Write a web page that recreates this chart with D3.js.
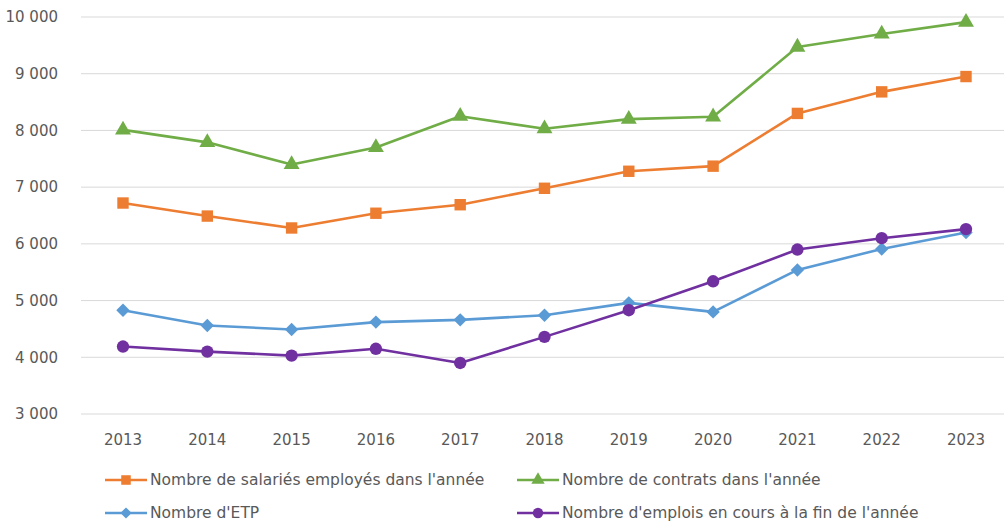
<!DOCTYPE html>
<html>
<head>
<meta charset="utf-8">
<script src="https://cdn.jsdelivr.net/npm/d3@7"></script>
<style>
  html, body { margin: 0; padding: 0; background: #fff; }
  svg text { font-family: "DejaVu Sans", "Noto Sans", sans-serif; fill: #595959; }
</style>
</head>
<body>
<svg id="chart" width="1004" height="522"></svg>
<script>
const years = [2013, 2014, 2015, 2016, 2017, 2018, 2019, 2020, 2021, 2022, 2023];
const salaries = [6720, 6490, 6280, 6540, 6690, 6980, 7280, 7370, 8300, 8680, 8950];
const contrats = [8010, 7790, 7400, 7700, 8250, 8030, 8200, 8240, 9470, 9700, 9910];
const etp = [4830, 4560, 4490, 4620, 4660, 4740, 4960, 4800, 5540, 5910, 6200];
const emplois = [4190, 4100, 4030, 4150, 3900, 4360, 4830, 5340, 5900, 6100, 6260];
const yTicks = [3000, 4000, 5000, 6000, 7000, 8000, 9000, 10000];

// diamond drawn as a square turned 45 degrees
const squareDiamond = {
  draw(context, size) {
    const r = Math.sqrt(size / 2);
    context.moveTo(0, -r);
    context.lineTo(r, 0);
    context.lineTo(0, r);
    context.lineTo(-r, 0);
    context.closePath();
  }
};

const series = [
  { name: "Nombre de salariés employés dans l'année", values: salaries, color: "#ED7D31", symbol: d3.symbolSquare, size: 130 },
  { name: "Nombre de contrats dans l'année", values: contrats, color: "#70AD47", symbol: d3.symbolTriangle, size: 110 },
  { name: "Nombre d'ETP", values: etp, color: "#5B9BD5", symbol: squareDiamond, size: 90 },
  { name: "Nombre d'emplois en cours à la fin de l'année", values: emplois, color: "#7030A0", symbol: d3.symbolCircle, size: 120 }
];

const svg = d3.select("#chart");
const plotLeft = 81, plotRight = 1004, plotTop = 17, plotBottom = 414;

const x = d3.scalePoint().domain(years).range([123, 966]);
const y = d3.scaleLinear().domain([3000, 10000]).range([plotBottom, plotTop]);

const fmt = v => d3.format(",")(v).replace(/,/g, "\u00A0");

// horizontal gridlines
svg.append("g").selectAll("line").data(yTicks).join("line")
  .attr("x1", plotLeft).attr("x2", plotRight)
  .attr("y1", d => y(d)).attr("y2", d => y(d))
  .attr("stroke", "#d9d9d9").attr("stroke-width", 1);

// y axis labels
svg.append("g").selectAll("text").data(yTicks).join("text")
  .attr("x", 58).attr("y", d => y(d)).attr("dy", "0.35em")
  .attr("text-anchor", "end").attr("font-size", 15)
  .text(d => fmt(d));

// x axis labels
svg.append("g").selectAll("text").data(years).join("text")
  .attr("x", d => x(d)).attr("y", 440).attr("dy", "0.35em")
  .attr("text-anchor", "middle").attr("font-size", 15)
  .text(d => d);

const line = d3.line().x((d, i) => x(years[i])).y(d => y(d));

series.forEach(s => {
  const g = svg.append("g");
  g.append("path").attr("d", line(s.values))
    .attr("fill", "none").attr("stroke", s.color).attr("stroke-width", 2.6)
    .attr("stroke-linejoin", "round");
  g.selectAll("path.m").data(s.values).join("path").attr("class", "m")
    .attr("transform", (d, i) => `translate(${x(years[i])},${y(d)})`)
    .attr("d", d3.symbol().type(s.symbol).size(s.size))
    .attr("fill", s.color);
});

// legend
const legendPos = [[105, 480], [517, 480], [105, 513], [517, 513]];
series.forEach((s, i) => {
  const [lx, ly] = legendPos[i];
  const g = svg.append("g").attr("transform", `translate(${lx},${ly})`);
  g.append("line").attr("x1", 0).attr("x2", 42).attr("y1", 0).attr("y2", 0)
    .attr("stroke", s.color).attr("stroke-width", 2.6);
  g.append("path").attr("transform", "translate(21,0)")
    .attr("d", d3.symbol().type(s.symbol).size(s.size * 0.7)).attr("fill", s.color);
  g.append("text").attr("x", 45).attr("y", 0).attr("dy", "0.35em")
    .attr("font-size", 15.5).text(s.name);
});
</script>
</body>
</html>
